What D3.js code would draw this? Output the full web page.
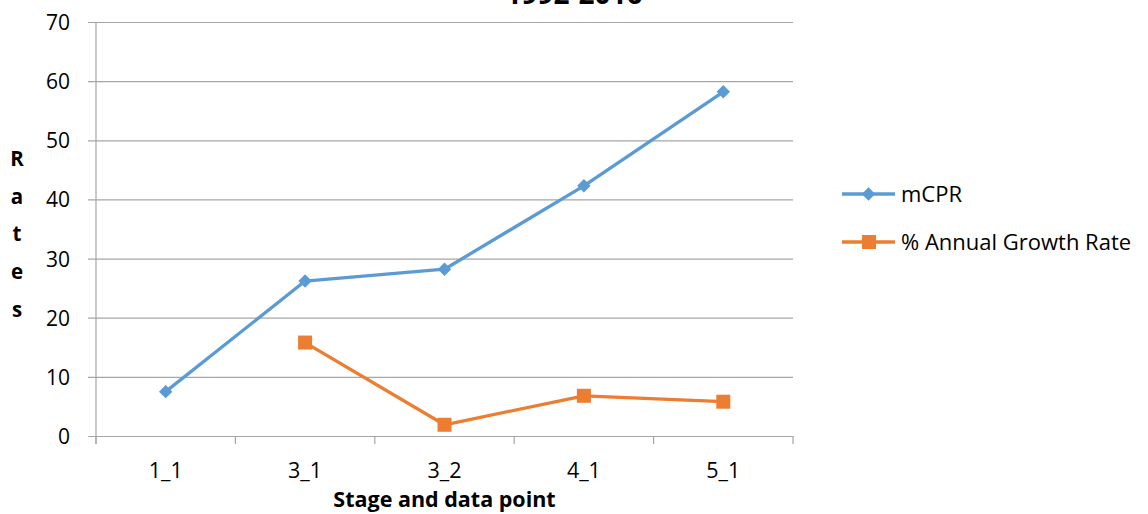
<!DOCTYPE html>
<html>
<head>
<meta charset="utf-8">
<script src="https://cdn.jsdelivr.net/npm/d3@7"></script>
<style>
  html, body { margin: 0; padding: 0; background: #fff; }
  svg { display: block; font-family: "Open Sans", Lato, sans-serif; }
</style>
</head>
<body>
<svg id="chart" width="1148" height="514"></svg>
<script>
// Stages and data points along the x axis
const categories = ["1_1", "3_1", "3_2", "4_1", "5_1"];
// Modern contraceptive prevalence rate per stage
const mcpr = [7.5, 26.2, 28.2, 42.3, 58.2];
// Percentage annual growth rate (no value for the first stage)
const growth = [null, 15.8, 1.9, 6.8, 5.8];
const yTicks = [0, 10, 20, 30, 40, 50, 60, 70];
const seriesNames = ["mCPR", "% Annual Growth Rate"];
const titleText = "1992-2016";

const blue = "#5B9BD5", orange = "#ED7D31", grid = "#A6A6A6";

const svg = d3.select("#chart");
const m = { left: 96, right: 793, top: 22, bottom: 436 };

const x = d3.scaleBand().domain(categories).range([m.left, m.right]).padding(0);
const y = d3.scaleLinear().domain([0, 70]).range([m.bottom, m.top]);
const cx = c => x(c) + x.bandwidth() / 2;

// Title (only its last line sits inside the frame)
svg.append("text")
  .attr("x", 574).attr("y", 4)
  .attr("text-anchor", "middle")
  .attr("font-weight", "bold")
  .attr("font-size", 28)
  .attr("fill", "#000")
  .text(titleText);

// Horizontal gridlines with left tick stubs
const yAxis = d3.axisLeft(y).tickValues(yTicks).tickSize(0).tickPadding(18);
const gy = svg.append("g").attr("transform", `translate(${m.left - 8},0)`).call(yAxis);
gy.select(".domain").remove();
gy.selectAll(".tick line").attr("stroke", grid).attr("stroke-width", 1.2).attr("x1", 0).attr("x2", m.right - m.left + 8);
gy.selectAll(".tick text").attr("font-size", 21).attr("fill", "#000").attr("x", -18).attr("dy", "0.36em")
  .attr("font-family", "'Open Sans', sans-serif");

// Vertical axis line
svg.append("line")
  .attr("x1", m.left).attr("x2", m.left)
  .attr("y1", m.top).attr("y2", m.bottom + 8)
  .attr("stroke", grid).attr("stroke-width", 1.2);

// Category boundary ticks below the axis
const bounds = categories.map(c => x(c)).concat([x(categories[categories.length - 1]) + x.bandwidth()]);
svg.append("g").selectAll("line").data(bounds).join("line")
  .attr("x1", d => d).attr("x2", d => d)
  .attr("y1", m.bottom).attr("y2", m.bottom + 8)
  .attr("stroke", grid).attr("stroke-width", 1.2);

// Category labels
svg.append("g").selectAll("text").data(categories).join("text")
  .attr("x", d => cx(d)).attr("y", 478)
  .attr("text-anchor", "middle")
  .attr("font-size", 21.5).attr("fill", "#000")
  .text(d => d);

// Axis titles
svg.append("text")
  .attr("x", (m.left + m.right) / 2).attr("y", 507)
  .attr("text-anchor", "middle").attr("font-weight", "bold")
  .attr("font-size", 21.5).attr("fill", "#000")
  .text("Stage and data point");

const yTitle = "Rates".split("");
svg.append("g").selectAll("text").data(yTitle).join("text")
  .attr("x", 17).attr("y", (d, i) => 166 + i * 37.7)
  .attr("text-anchor", "middle").attr("font-weight", "bold")
  .attr("font-size", 20.5).attr("fill", "#000")
  .text(d => d);

// Series lines and markers
const line = d3.line()
  .defined(d => d.v != null)
  .x(d => cx(d.c)).y(d => y(d.v));

const mcprPts = categories.map((c, i) => ({ c, v: mcpr[i] }));
const growthPts = categories.map((c, i) => ({ c, v: growth[i] }));

svg.append("path").datum(mcprPts).attr("d", line)
  .attr("fill", "none").attr("stroke", blue).attr("stroke-width", 3.3).attr("stroke-linejoin", "round");
svg.append("path").datum(growthPts).attr("d", line)
  .attr("fill", "none").attr("stroke", orange).attr("stroke-width", 3.3).attr("stroke-linejoin", "round");

const diamondPath = d3.symbol().type(d3.symbolSquare).size(90)();
svg.append("g").selectAll("path").data(mcprPts).join("path")
  .attr("transform", d => `translate(${cx(d.c)},${y(d.v)}) rotate(45)`)
  .attr("d", diamondPath)
  .attr("fill", blue);

svg.append("g").selectAll("rect").data(growthPts.filter(d => d.v != null)).join("rect")
  .attr("x", d => cx(d.c) - 7).attr("y", d => y(d.v) - 7)
  .attr("width", 14).attr("height", 14)
  .attr("fill", orange);

// Legend
const legend = svg.append("g");
const legendRows = [
  { name: seriesNames[0], color: blue, shape: "diamond", y: 194 },
  { name: seriesNames[1], color: orange, shape: "square", y: 242 }
];
legendRows.forEach(r => {
  legend.append("line").attr("x1", 842).attr("x2", 895).attr("y1", r.y).attr("y2", r.y)
    .attr("stroke", r.color).attr("stroke-width", 3.3);
  if (r.shape === "diamond") {
    legend.append("path").attr("transform", `translate(868.5,${r.y}) rotate(45)`)
      .attr("d", diamondPath).attr("fill", r.color);
  } else {
    legend.append("rect").attr("x", 862).attr("y", r.y - 7).attr("width", 14).attr("height", 14).attr("fill", r.color);
  }
  legend.append("text").attr("x", 901).attr("y", r.y).attr("dy", "0.36em")
    .attr("font-size", 22).attr("fill", "#000").text(r.name);
});
</script>
</body>
</html>
